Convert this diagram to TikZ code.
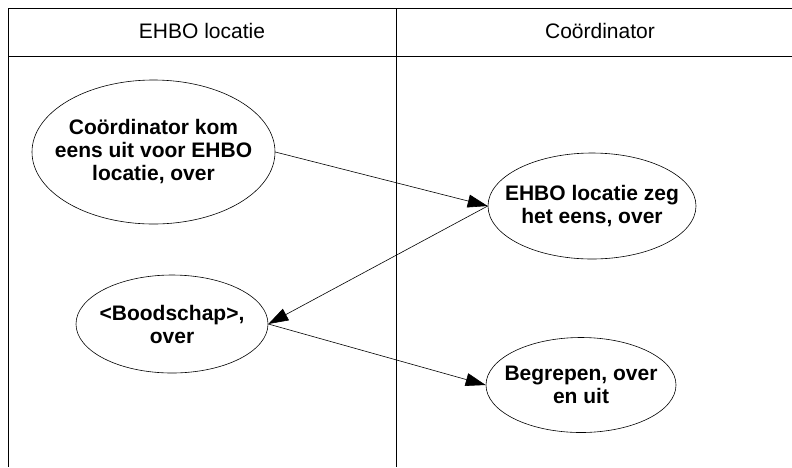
\documentclass[tikz,border=0pt]{standalone}
\usepackage{fontspec}
\setmainfont{Liberation Sans}
\usetikzlibrary{shapes.geometric,arrows.meta}
\begin{document}
\begin{tikzpicture}[x=1pt,y=-1pt,
    bericht/.style={draw, ellipse, inner sep=0pt, line width=0.6pt},
    tekst/.style={align=center, inner sep=0pt, font=\fontsize{21}{23}\selectfont\bfseries},
    kopje/.style={anchor=base, font=\fontsize{21}{23}\selectfont},
    pijl/.style={line width=0.6pt, -{Triangle[length=20pt,width=13pt]}}]
  \useasboundingbox (0,0) rectangle (792,467);
  \pgfmathsetmacro{\kop}{56}
  \pgfmathsetmacro{\kolom}{396}
  % swimlanes
  \draw[line width=0.7pt] (792,8) -- (8,8) -- (8,467);
  \draw[line width=0.7pt] (8,\kop) -- (792,\kop);
  \draw[line width=0.7pt] (\kolom,8) -- (\kolom,467);
  \node[kopje] (ehbo) at (202,38.3) {EHBO locatie};
  \node[kopje] (coord) at (600,38.3) {Coördinator};
  % berichten
  \node[bericht, minimum width=243pt, minimum height=144pt] (oproep) at (153.5,152) {};
  \node[tekst] (oproeptekst) at (oproep) {Coördinator kom\\eens uit voor EHBO\\locatie, over};
  \node[bericht, minimum width=208pt, minimum height=106pt] (zeg) at (592,206) {};
  \node[tekst] (zegtekst) at (zeg) {EHBO locatie zeg\\het eens, over};
  \node[bericht, minimum width=192pt, minimum height=98pt] (boodschap) at (172,324) {};
  \node[tekst] (boodschaptekst) at (boodschap) {<Boodschap>,\\over};
  \node[bericht, minimum width=190pt, minimum height=95pt] (begrepen) at (581,385) {};
  \node[tekst] (begrepentekst) at (begrepen) {Begrepen, over\\en uit};
  \draw[pijl] (oproep.east) -- (zeg.west);
  \draw[pijl] (zeg.west) -- (boodschap.east);
  \draw[pijl] (boodschap.east) -- (begrepen.west);
\end{tikzpicture}
\end{document}
